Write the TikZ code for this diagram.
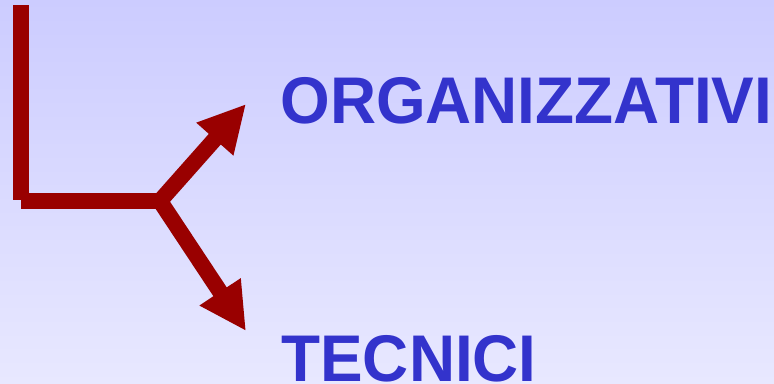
\documentclass[tikz,border=0pt]{standalone}
\usepackage{fontspec}
\setmainfont{Liberation Sans}
\usetikzlibrary{arrows.meta,positioning}
\definecolor{bgtop}{RGB}{204,204,255}
\definecolor{bgbot}{RGB}{232,232,255}
\definecolor{darkred}{RGB}{153,0,0}
\definecolor{textblue}{RGB}{51,51,204}
\begin{document}
\begin{tikzpicture}[x=1pt, y=-1pt, thick,
        bar/.style = {draw=darkred, line width=16pt},
        arr/.style = {bar, -{Triangle[length=47pt, width=46pt]}},
        label/.style = {draw=none, text=textblue, font=\fontsize{66}{66}\selectfont\bfseries, xscale=0.967, inner sep=0pt}]
        \shade[top color=bgtop, bottom color=bgbot] (0,0) rectangle (774,383);
        \useasboundingbox (0,0) rectangle (774,383);

        \coordinate (1) at (21,5);
        \coordinate (2) at (21,200);
        \coordinate (3) at (21,201);
        \coordinate (4) at (160,201);
        \coordinate (5) at (246,104);
        \coordinate (6) at (246,331);

        \node[label, anchor=base west] (org) at (280,123) {ORGANIZZATIVI};
        \node[label, anchor=base west] (tec) at (281,381) {TECNICI};

        \draw[bar] (1) -- (2);
        \draw[bar] (3) -- (4);
        \draw[arr] (4) -- (5);
        \draw[arr] (4) -- (6);
    \end{tikzpicture}
\end{document}
